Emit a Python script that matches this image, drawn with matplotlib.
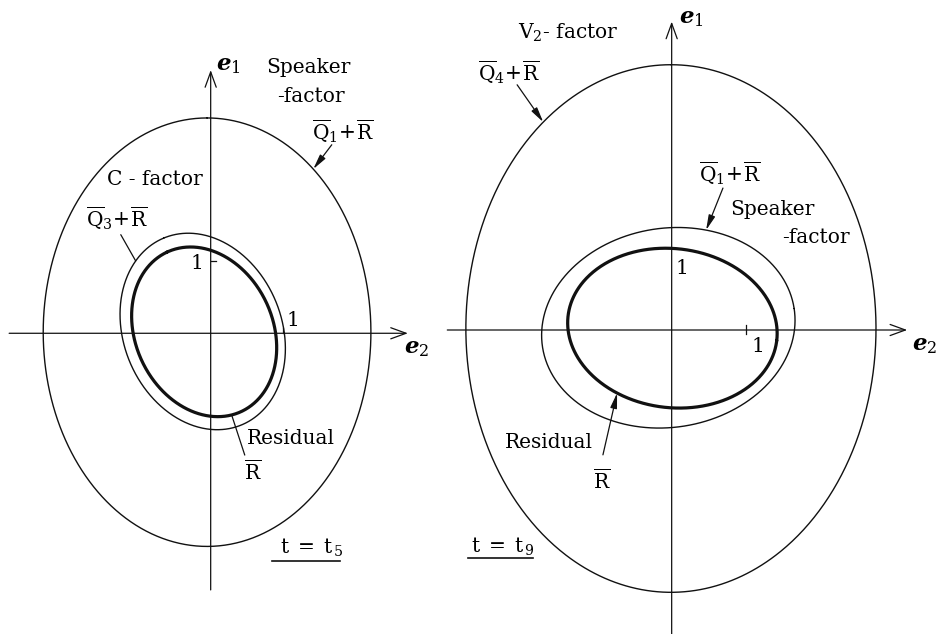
import numpy as np
import matplotlib
matplotlib.use("Agg")
import matplotlib.pyplot as plt

plt.rcParams["font.family"] = ["DejaVu Serif"]
plt.rcParams["mathtext.fontset"] = "custom"
plt.rcParams["mathtext.rm"] = "DejaVu Serif"
plt.rcParams["mathtext.it"] = "DejaVu Serif:italic"
plt.rcParams["mathtext.bf"] = "DejaVu Serif:bold"
plt.rcParams["mathtext.bfit"] = "DejaVu Serif:italic:bold"

# Quadratic-form contours in the (e2, e1) plane, one tuple per curve:
# centre e2, centre e1, major semi-axis, minor semi-axis, major-axis angle (deg)
left_names = ["Q1+R", "Q3+R", "R"]
left_center_e2 = [-0.05, -0.11, -0.09]
left_center_e1 = [0.015, 0.025, 0.02]
left_major = [2.955, 1.396, 1.213]
left_minor = [2.26, 1.090, 0.948]
left_angle = [90.0, 112.6, 115.0]

right_names = ["Q4+R", "Q1+R", "R"]
right_center_e2 = [-0.01, -0.045, 0.01]
right_center_e1 = [0.02, 0.03, 0.025]
right_major = [3.55, 1.713, 1.414]
right_minor = [2.76, 1.340, 1.070]
right_angle = [90.0, 8.7, -6.8]

# Line weights for the three contours of each panel (outer, middle, residual)
weights = [1.0, 1.0, 2.3]


def contour(cx, cy, a, b, ang, n=720):
    t = np.linspace(0, 2 * np.pi, n)
    th = np.deg2rad(ang)
    u, v = a * np.cos(t), b * np.sin(t)
    x = cx + u * np.cos(th) - v * np.sin(th)
    y = cy + u * np.sin(th) + v * np.cos(th)
    return x, y


def point_at(cx, cy, a, b, ang, direction):
    x, y = contour(cx, cy, a, b, ang, 3600)
    phi = np.degrees(np.arctan2(y - cy, x - cx))
    d = np.abs((phi - direction + 180) % 360 - 180)
    i = int(np.argmin(d))
    return x[i], y[i]


W, H = 937, 634
fig = plt.figure(figsize=(W / 100, H / 100), dpi=100)
fig.patch.set_facecolor("white")

axL = fig.add_axes([0, 0, 440 / W, 1])
axR = fig.add_axes([440 / W, 0, 497 / W, 1])
axL.set_xlim(-2.906, 3.163)
axL.set_ylim(-4.148, 4.597)
axR.set_xlim(-3.118, 3.571)
axR.set_ylim(-4.091, 4.441)
for ax in (axL, axR):
    ax.set_axis_off()

FS = 14.5
ink = "#111111"
axis_arrow = dict(arrowstyle="->,head_length=0.55,head_width=0.2", lw=0.9,
                  color=ink, mutation_scale=20, shrinkA=0, shrinkB=0)
lead_arrow = dict(arrowstyle="-|>,head_length=0.45,head_width=0.1", lw=0.9,
                  color=ink, mutation_scale=20, shrinkA=0, shrinkB=0)
lead_plain = dict(arrowstyle="-", lw=0.9, color=ink, shrinkA=0, shrinkB=0)

QR = lambda k: r"$\overline{\mathrm{Q}}_{\mathrm{%d}}\!+\!\overline{\mathrm{R}}$" % k
RBAR = r"$\overline{\mathrm{R}}$"
TEQ = lambda k: r"$\mathrm{t}\;=\;\mathrm{t}_{\,\mathrm{%d}}$" % k


def draw_axes(ax, e2_range, e1_range):
    ax.annotate("", xy=(e2_range[1], 0), xytext=(e2_range[0], 0), arrowprops=axis_arrow)
    ax.annotate("", xy=(0, e1_range[1]), xytext=(0, e1_range[0]), arrowprops=axis_arrow)


def draw_curves(ax, cx, cy, a, b, ang):
    params = list(zip(cx, cy, a, b, ang))
    for p, lw in zip(params, weights):
        x, y = contour(*p)
        ax.plot(x, y, color=ink, lw=lw, solid_capstyle="round")
    return params


# ---------------- left panel: t = t5 ----------------
draw_axes(axL, (-2.78, 2.72), (-3.54, 3.63))
pL = draw_curves(axL, left_center_e2, left_center_e1, left_major, left_minor, left_angle)

axL.plot([0, 0.08], [1, 1], color=ink, lw=0.9)
axL.text(-0.19, 0.96, "1", fontsize=FS, ha="center", va="center")
axL.plot([1.0, 1.0], [0, 0.07], color=ink, lw=0.9)
axL.text(1.13, 0.17, "1", fontsize=FS, ha="center", va="center")

axL.text(0.07, 3.70, r"$\mathbfit{e}_{\mathrm{1}}$", fontsize=FS + 2, ha="left", va="center")
axL.text(2.66, -0.20, r"$\mathbfit{e}_{\mathrm{2}}$", fontsize=FS + 2, ha="left", va="center")

axL.text(0.76, 3.66, "Speaker", fontsize=FS, ha="left", va="center")
axL.text(0.91, 3.27, "-factor", fontsize=FS, ha="left", va="center")
axL.text(1.40, 2.78, QR(1), fontsize=FS, ha="left", va="center")
axL.annotate("", xy=point_at(*pL[0], 56.9), xytext=(1.67, 2.60), arrowprops=lead_arrow)

axL.text(-1.43, 2.12, "C - factor", fontsize=FS, ha="left", va="center")
axL.text(-1.72, 1.58, QR(3), fontsize=FS, ha="left", va="center")
axL.annotate("", xy=point_at(*pL[1], 133.5), xytext=(-1.24, 1.36), arrowprops=lead_plain)

axL.text(0.50, -1.445, "Residual", fontsize=FS, ha="left", va="center")
axL.text(0.46, -1.91, RBAR, fontsize=FS, ha="left", va="center")
axL.annotate("", xy=point_at(*pL[2], -71.7), xytext=(0.47, -1.68), arrowprops=lead_plain)

axL.text(0.95, -2.96, TEQ(5), fontsize=FS, ha="left", va="center")
axL.plot([0.846, 1.783], [-3.14, -3.14], color=ink, lw=1.2)

# ---------------- right panel: t = t9 ----------------
draw_axes(axR, (-3.02, 3.17), (-4.2, 4.15))
pR = draw_curves(axR, right_center_e2, right_center_e1, right_major, right_minor, right_angle)

axR.plot([1.0, 1.0], [-0.06, 0.07], color=ink, lw=0.9)
axR.text(1.157, -0.225, "1", fontsize=FS, ha="center", va="center")
axR.text(0.14, 0.83, "1", fontsize=FS, ha="center", va="center")

axR.text(0.10, 4.20, r"$\mathbfit{e}_{\mathrm{1}}$", fontsize=FS + 2, ha="left", va="center")
axR.text(3.24, -0.20, r"$\mathbfit{e}_{\mathrm{2}}$", fontsize=FS + 2, ha="left", va="center")

axR.text(-2.07, 4.00, r"V$_{\mathrm{2}}$- factor", fontsize=FS, ha="left", va="center")
axR.text(-2.61, 3.47, QR(4), fontsize=FS, ha="left", va="center")
axR.annotate("", xy=point_at(*pR[0], 121.7), xytext=(-2.08, 3.30), arrowprops=lead_arrow)

axR.text(0.37, 2.11, QR(1), fontsize=FS, ha="left", va="center")
axR.annotate("", xy=point_at(*pR[1], 68.8), xytext=(0.69, 1.91), arrowprops=lead_arrow)
axR.text(0.785, 1.615, "Speaker", fontsize=FS, ha="left", va="center")
axR.text(1.48, 1.24, "-factor", fontsize=FS, ha="left", va="center")

axR.text(-2.245, -1.52, "Residual", fontsize=FS, ha="left", va="center")
axR.text(-1.06, -2.02, RBAR, fontsize=FS, ha="left", va="center")
axR.annotate("", xy=point_at(*pR[2], -130.5), xytext=(-0.925, -1.68), arrowprops=lead_arrow)

axR.text(-2.70, -2.92, TEQ(9), fontsize=FS, ha="left", va="center")
axR.plot([-2.74, -1.867], [-3.07, -3.07], color=ink, lw=1.2)

fig.savefig("out.png", dpi=100, facecolor="white")
